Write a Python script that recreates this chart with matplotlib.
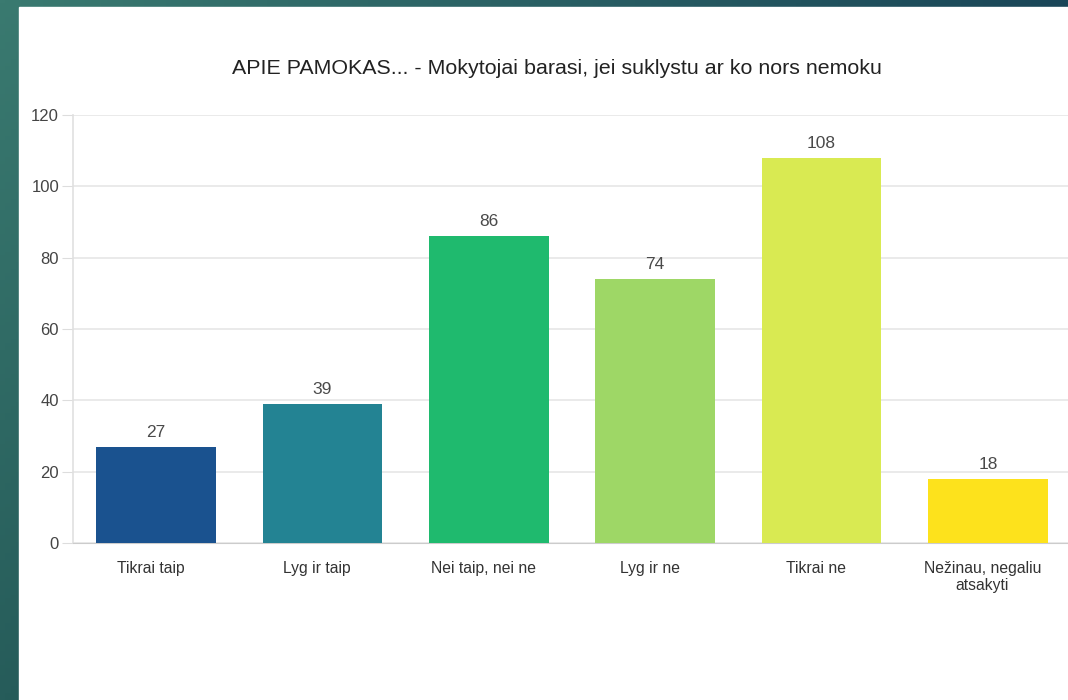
import numpy as np
import matplotlib.pyplot as plt
from matplotlib.patches import Rectangle
from matplotlib.transforms import ScaledTranslation

plt.rcParams["font.family"] = ["Liberation Sans", "DejaVu Sans"]

categories = ["Tikrai taip", "Lyg ir taip", "Nei taip, nei ne", "Lyg ir ne",
              "Tikrai ne", "Nežinau, negaliu\natsakyti"]
values = [27, 39, 86, 74, 108, 18]
colors = ["#1a528f", "#238393", "#1fba6e", "#9ed766", "#d9ea52", "#fde21c"]
yticks = [0, 20, 40, 60, 80, 100, 120]
title = "APIE PAMOKAS... - Mokytojai barasi, jei suklystu ar ko nors nemoku"

W, H = 1068, 700
fig = plt.figure(figsize=(W / 100, H / 100), dpi=100)

# teal gradient frame behind the white slide
bg = fig.add_axes([0, 0, 1, 1])
bg.set_axis_off()
tl = np.array([58, 122, 112]) / 255
tr = np.array([26, 70, 88]) / 255
bl = np.array([38, 92, 90]) / 255
u = np.linspace(0, 1, 200)[None, :, None]
v = np.linspace(0, 1, 200)[:, None, None]
grad = tl + (tr - tl) * u + (bl - tl) * v
bg.imshow(np.clip(grad, 0, 1), extent=[0, 1, 0, 1], aspect="auto", origin="upper")
bg.add_patch(Rectangle((19 / W, 0), 1, 1 - 7 / H, color="white", transform=bg.transAxes))
bg.set_xlim(0, 1)
bg.set_ylim(0, 1)

ax = fig.add_axes([73 / W, 157 / H, 998 / W, 428 / H])
ax.set_facecolor("none")
x = np.arange(len(categories))
ax.bar(x, values, width=0.72, color=colors, zorder=3)
for xi, val in zip(x, values):
    ax.text(xi, val + 2.0, str(val), ha="center", va="bottom", fontsize=12.5, color="#4a4a4a")

ax.set_xlim(-0.5, len(categories) - 0.5)
ax.set_ylim(0, 120)
ax.set_yticks(yticks)
ax.set_xticks(x)
ax.set_xticklabels(categories, fontsize=11.3, color="#333333", linespacing=1.2)
ax.tick_params(axis="y", length=8, color="#dddddd", labelsize=12, labelcolor="#444444", pad=2)
ax.tick_params(axis="x", length=0, pad=13)
# category labels sit a few pixels left of the bar centres in the original
shift = ScaledTranslation(-5.5 / 100, 0, fig.dpi_scale_trans)
for lbl in ax.get_xticklabels():
    lbl.set_transform(lbl.get_transform() + shift)
ax.grid(axis="y", color="#e6e6e6", linewidth=1.2, zorder=0)
for s in ["top", "right"]:
    ax.spines[s].set_visible(False)
ax.spines["left"].set_color("#e0e0e0")
ax.spines["bottom"].set_color("#cccccc")
ax.spines["left"].set_linewidth(1.2)

fig.text(557 / W, 1 - 69 / H, title, ha="center", va="center", fontsize=15.4, color="#222222")

fig.savefig("out.png", dpi=100, facecolor="white")
